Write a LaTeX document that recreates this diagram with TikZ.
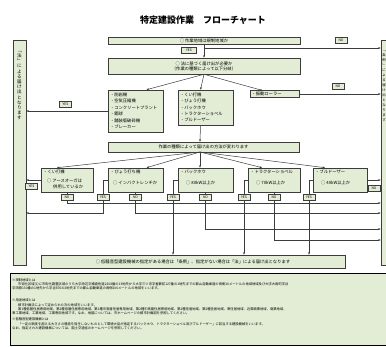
\documentclass[tikz,border=0pt]{standalone}
\usepackage{fontspec}
\setmainfont{Noto Sans CJK JP}
\usetikzlibrary{arrows.meta}
\definecolor{boxg}{RGB}{227,237,214}
\definecolor{linec}{RGB}{60,60,60}
\tikzset{
  bx/.style={draw=linec, line width=0.6pt, fill=boxg, inner sep=0pt},
  lbl/.style={draw=linec, line width=0.4pt, fill=boxg, inner sep=0pt, minimum width=12pt, minimum height=6pt, font=\fontsize{3.4}{4}\selectfont},
  txt/.style={inner sep=0pt, font=\fontsize{4.3}{5}\selectfont},
  note/.style={inner sep=0pt, anchor=north west, align=left, font=\fontsize{3.3}{4.2}\selectfont},
  arr/.style={draw=linec, line width=0.5pt, -{Stealth[length=2.5pt,width=2pt]}},
  ln/.style={draw=linec, line width=0.5pt},
}
\begin{document}
\begin{tikzpicture}[x=1pt,y=-1pt]
\useasboundingbox (0,0) rectangle (386,347);
\clip (0,0) rectangle (386,347);
\fill[white] (0,0) rectangle (386,347);

% title
\node[inner sep=0pt, font=\fontsize{9}{10}\selectfont\bfseries] (title) at (203,20) {特定建設作業　フローチャート};

% side boxes
\node[bx, minimum width=13pt, minimum height=225pt] (LT) at (19.5,152.5) {};
\node[txt, anchor=north, align=center, font=\fontsize{4.6}{5.2}\selectfont] (LTt) at (19.5,51) {﹁\\法\\﹂\\に\\よ\\る\\届\\け\\出\\と\\な\\り\\ま\\す};
\node[bx, minimum width=14pt, minimum height=225pt] (RT) at (388,152.5) {};
\node[txt, anchor=north, align=center, font=\fontsize{3.4}{5}\selectfont] (RTt) at (384,51) {﹁\\条\\例\\﹂\\に\\よ\\る\\届\\け\\出\\と\\な\\り\\ま\\す};

% main boxes
\node[bx, minimum width=192pt, minimum height=7pt, txt] (q1) at (204,40.5) {○ 作業地域は規制地域か};
\node[bx, minimum width=192pt, minimum height=16pt, txt, align=center] (q2) at (204,66) {○ 法に基づく届け出が必要か\\（作業の種類によって以下分岐）};
\node[bx, minimum width=55pt, minimum height=42pt, text width=51pt, align=left, font=\fontsize{4.3}{6.5}\selectfont] (L) at (135.5,111) {・削岩機\\・空気圧縮機\\・コンクリートプラント\\・鋼球\\・舗装版破砕機\\・ブレーカー};
\node[bx, minimum width=55pt, minimum height=35pt, text width=51pt, align=left, font=\fontsize{4.3}{6.2}\selectfont] (M) at (205.5,107.5) {・くい打機\\・びょう打機\\・バックホウ\\・トラクターショベル\\・ブルドーザー};
\node[bx, minimum width=49pt, minimum height=6.5pt, text width=46pt, align=left, txt] (V) at (274.5,94) {・振動ローラー};
\node[bx, minimum width=191pt, minimum height=10pt, txt] (W) at (203.5,147) {作業の種類によって届け出の方法が変わります};

% bottom row
\node[bx, minimum width=52pt, minimum height=24pt] (B1) at (67,180) {};
\node[bx, minimum width=55pt, minimum height=24pt] (B2) at (135.5,180) {};
\node[bx, minimum width=55pt, minimum height=24pt] (B3) at (205.5,180) {};
\node[bx, minimum width=52pt, minimum height=24pt] (B4) at (274,180) {};
\node[bx, minimum width=54pt, minimum height=24pt] (B5) at (340,180) {};
\node[txt, anchor=west] (t1a) at (43,172) {・くい打機};
\node[txt, anchor=west] (t1b) at (47,181) {○ アースオーガは};
\node[txt, anchor=west] (t1c) at (53,187) {併用しているか};
\node[txt, anchor=west] (t2a) at (110,172) {・びょう打ち機};
\node[txt, anchor=west] (t2b) at (113,183) {○ インパクトレンチか};
\node[txt, anchor=west] (t3a) at (180,172) {・バックホウ};
\node[txt, anchor=west] (t3b) at (186,183) {○ 80kW以上か};
\node[txt, anchor=west] (t4a) at (250,172) {・トラクターショベル};
\node[txt, anchor=west] (t4b) at (256,183) {○ 70kW以上か};
\node[txt, anchor=west] (t5a) at (315,172) {・ブルドーザー};
\node[txt, anchor=west] (t5b) at (321,183) {○ 40kW以上か};

% final box
\node[bx, minimum width=304pt, minimum height=13pt, txt] (F) at (193,261.5) {○ 低騒音型建設機械の指定がある場合は「条例」、指定がない場合は「法」による届け出となります};

% connectors top
\draw[arr] (q1.south) -- (q2.north);
\coordinate (n1) at (204,48);
\draw[arr] (n1) -- (n1 -| RT.west);
\draw[arr] (q2.south) -- ([xshift=11pt]L.north);
\draw[arr] (q2.south) -- ([xshift=-5pt]M.north);
\draw[arr] (q2.south) -- ([xshift=-12pt]V.north);
\draw[arr] (L.west) -- (L.west -| LT.east);
\draw[arr] (V.east) -- (V.east -| RT.west);
\draw[arr] ([xshift=-5pt]M.south) -- ([xshift=-3.5pt]W.north);
\coordinate (w0) at (200,152);
\draw[arr] (w0) -- (B1.north -| 57,0);
\draw[arr] (w0) -- ([xshift=11pt]B2.north);
\draw[arr] (w0) -- ([xshift=-5.5pt]B3.north);
\draw[arr] (w0) -- ([xshift=-12pt]B4.north);
\draw[arr] (w0) -- ([xshift=-15pt]B5.north);

% bottom connectors
\draw[arr] (B1.west) -- (B1.west -| LT.east);
\coordinate (k1) at (67,203);
\draw[arr] (B1.south) -- (k1) -- (k1 -| RT.west);
\coordinate (y2) at (103,213);
\draw[arr] (B2.west) -| (y2) -- (y2 -| LT.east);
\coordinate (k2) at (135.5,213);
\draw[arr] (B2.south) -- (k2) -- (k2 -| RT.west);
\coordinate (y3) at (173,180);
\draw[arr] (B3.west) -- (y3) -- (y3 |- F.north);
\coordinate (k3) at (205.5,229);
\draw[arr] (B3.south) -- (k3) -- (k3 -| RT.west);
\coordinate (y4) at (244,180);
\draw[arr] (B4.west) -- (y4) -- (y4 |- F.north);
\coordinate (k4) at (274,240);
\draw[arr] (B4.south) -- (k4) -- (k4 -| RT.west);
\coordinate (y5) at (309,180);
\draw[arr] (B5.west) -- (y5) -- (y5 |- F.north);
\draw[arr] (B5.east) -- (B5.east -| RT.west);

% labels
\node[lbl, minimum width=15pt] (yes0) at (189,50) {YES};
\node[lbl] (no0) at (341,40.5) {NO};
\node[lbl] (yesL) at (65.5,104) {YES};
\node[lbl] (noV) at (338,86) {NO};
\node[lbl] (yes1) at (31.5,186.5) {YES};
\node[lbl] (no1) at (67,197) {NO};
\node[lbl] (yes2) at (103,197) {YES};
\node[lbl] (no2) at (135.5,197) {NO};
\node[lbl] (yes3) at (173,197) {YES};
\node[lbl] (no3) at (205.5,197) {NO};
\node[lbl] (yes4) at (244,197) {YES};
\node[lbl] (no4) at (274,197) {NO};
\node[lbl] (yes5) at (309,197) {YES};
\node[lbl] (no5) at (374,188.5) {NO};

% notes
\node[draw=black, line width=0.8pt, fill=boxg, minimum width=390pt, minimum height=72pt, inner sep=0pt] (N) at (205,309) {};
\node[note] (n1t) at (12,278.5) {※規制地域とは\\
\hspace{6pt}市街化区域(1)に市街化調整区域のうち大字添辺字楊倉佐道2208番の13地先から大字三ツ寺字善敷前127番の1地先までの郡山自動車道の両側10メートルの地域地域及び大字大島町字谷\\
字田原130番の1地先から字谷876の2地先までの郡山自動車道の両側100メートルの地域をいいます。};
\node[note] (n2t) at (12,299) {※用途地域とは\\
\hspace{6pt}都市計画法によって定められた次の地域をいいます。\\
\hspace{6pt}第1種低層住居専用地域、第2種低層住居専用地域、第1種中高層住居専用地域、第2種中高層住居専用地域、第1種住居地域、第2種住居地域、準住居地域、近隣商業地域、商業地域、\\
準工業地域、工業地域、工業専用地域です。なお、地図については、市ホームページの都市計画図を参照してください。};
\node[note] (n3t) at (12,318) {※低騒音型建設機械とは\\
\hspace{6pt}「一定の限度を超える大きさの騒音を発生しないものとして環境大臣が指定するバックホウ、トラクターショベル及びブルドーザー」に該当する建設機械をいいます。\\
なお、指定された建設機械については、国土交通省のホームページを参照してください。};
\end{tikzpicture}
\end{document}
